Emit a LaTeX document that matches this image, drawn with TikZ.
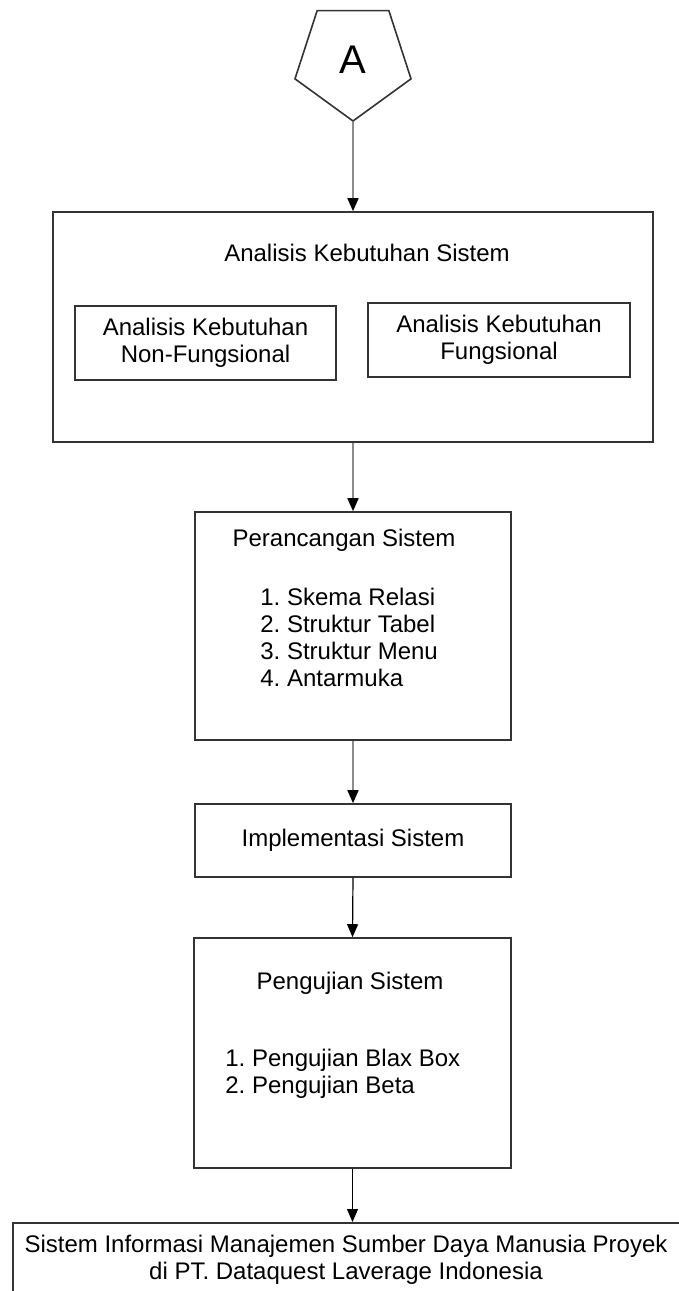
\documentclass[tikz,border=0pt]{standalone}
\usepackage{fontspec}
\setmainfont{Liberation Sans}
\usetikzlibrary{shapes.geometric,arrows.meta}
\frenchspacing

\begin{document}
\begin{tikzpicture}[x=0.5pt,y=-0.5pt,
  box/.style={draw=black!80, line width=0.8pt, inner sep=0pt},
  txt/.style={font=\fontsize{12}{13.5}\selectfont, align=center, inner sep=0pt},
  flow/.style={draw=black!45, line width=0.8pt, -{Triangle[length=6.5pt,width=5.5pt,black]}},
  flowdark/.style={draw=black, line width=0.6pt, -{Triangle[length=6.5pt,width=5.5pt]}}]

  \clip (0,0) rectangle (679,1291);
  \fill[white] (0,0) rectangle (679,1291);

  \node[box, regular polygon, regular polygon sides=5, shape border rotate=180,
    minimum size=61pt, font=\fontsize{20}{24}\selectfont] (conn) at (353,60) {A};

  \node[box, minimum width=300pt, minimum height=115pt] (analisis) at (353,327) {};
  \node[txt] (analisisjudul) at (367,253) {Analisis Kebutuhan Sistem};
  \node[box, txt, minimum width=130.5pt, minimum height=37pt] (nonfungsi) at (205.5,343)
    {Analisis Kebutuhan\\Non-Fungsional};
  \node[box, txt, minimum width=131pt, minimum height=37pt] (fungsi) at (499,340)
    {Analisis Kebutuhan\\Fungsional};

  \node[box, minimum width=158pt, minimum height=114pt] (rancang) at (353,626) {};
  \node[txt] (rancangjudul) at (344,540) {Perancangan Sistem};
  \node[txt, align=left, anchor=west] (rancanglist) at (260,637.5)
    {1. Skema Relasi\\2. Struktur Tabel\\3. Struktur Menu\\4. Antarmuka};

  \node[box, txt, minimum width=158pt, minimum height=36.5pt] (implementasi) at (353,840.5)
    {Implementasi Sistem};

  \node[box, minimum width=158.5pt, minimum height=115pt] (uji) at (352.5,1053) {};
  \node[txt] (ujijudul) at (350,983) {Pengujian Sistem};
  \node[txt, align=left, anchor=west] (ujilist) at (225,1074)
    {1. Pengujian Blax Box\\2. Pengujian Beta};

  \node[box, minimum width=350pt, minimum height=50pt, anchor=north west] (hasil) at (12,1222) {};
  \node[txt] (hasilteks) at (346,1259.5)
    {Sistem Informasi Manajemen Sumber Daya Manusia Proyek\\di PT. Dataquest Laverage Indonesia};

  \draw[flow] (conn.south) -- (analisis.north);
  \draw[flow] (analisis.south) -- (rancang.north);
  \draw[flow] (rancang.south) -- (implementasi.north);
  \draw[flowdark] (implementasi.south) -- (uji.north);
  \draw[flowdark] (uji.south) -- (uji.south |- hasil.north);

\end{tikzpicture}
\end{document}
